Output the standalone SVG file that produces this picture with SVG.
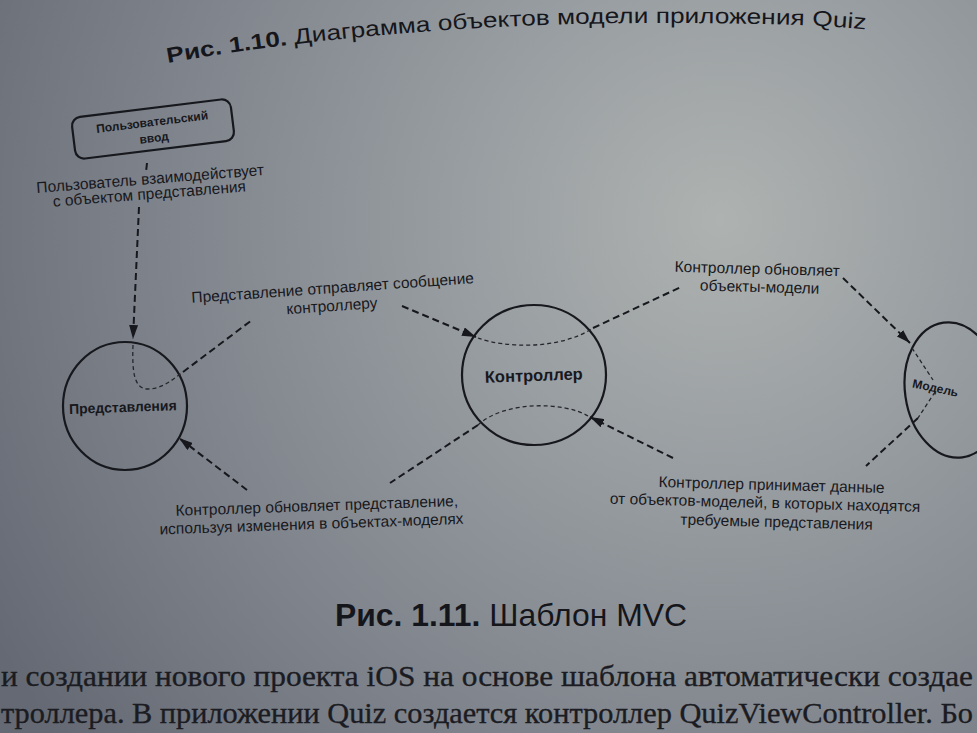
<svg xmlns="http://www.w3.org/2000/svg" width="977" height="733" viewBox="0 0 977 733">
  <defs>
    <radialGradient id="paper" cx="720" cy="220" r="840" gradientUnits="userSpaceOnUse">
      <stop offset="0" stop-color="#aeb2b0"/>
      <stop offset="0.3" stop-color="#999ea2"/>
      <stop offset="0.65" stop-color="#80858d"/>
      <stop offset="1" stop-color="#646973"/>
    </radialGradient>
    <marker id="arrow" viewBox="0 0 14 9" refX="14" refY="4.5" markerWidth="14" markerHeight="9" markerUnits="userSpaceOnUse" orient="auto">
      <path d="M0,0 L14,4.5 L0,9 z" fill="#17181d"/>
    </marker>
    <!-- curved baseline for the upper figure caption -->
    <path id="capline" d="M168,63 C300,39 480,23 650,23 C760,23 820,25 862,29"/>
  </defs>
  <style>
    .node{fill:none;stroke:#17181d;stroke-width:2.2}
    .nodelbl{font-family:"Liberation Sans",Arial,sans-serif;font-weight:bold;fill:#17181d;text-anchor:middle}
    .lbl{font-family:"Liberation Sans",Arial,sans-serif;font-size:15.5px;fill:#17181d;text-anchor:middle}
    .dash{fill:none;stroke:#17181d;stroke-width:2;stroke-dasharray:7 4}
    .thin{fill:none;stroke:#25262c;stroke-width:1.3;stroke-dasharray:4 3}
    .cap{font-family:"Liberation Sans",Arial,sans-serif;fill:#15161b}
    .body{font-family:"Liberation Serif","Times New Roman",serif;font-size:30px;fill:#1b1b22;stroke:#1b1b22;stroke-width:0.35}
  </style>

  <!-- page -->
  <rect width="977" height="733" fill="url(#paper)"/>

  <!-- caption of the previous figure, bending with the page -->
  <text class="cap" font-size="21.5" textLength="700" lengthAdjust="spacingAndGlyphs">
    <textPath href="#capline"><tspan font-weight="bold">Рис. 1.10.</tspan> Диаграмма объектов модели приложения Quiz</textPath>
  </text>

  <!-- nodes -->
  <g id="user-input" transform="rotate(-7 153 129)">
    <rect x="73" y="108" width="160" height="42" rx="9" class="node" stroke-width="2"/>
    <text class="nodelbl" font-size="12" x="153" y="126">Пользовательский</text>
    <text class="nodelbl" font-size="12" x="153" y="142">ввод</text>
  </g>

  <g id="view">
    <ellipse cx="125" cy="406" rx="62" ry="64" class="node"/>
    <text class="nodelbl" font-size="14" x="123" y="412" transform="rotate(-2 123 412)">Представления</text>
  </g>

  <g id="controller">
    <ellipse cx="534" cy="375" rx="72" ry="70" class="node"/>
    <text class="nodelbl" font-size="16.5" x="534" y="381" transform="rotate(-2 534 381)">Контроллер</text>
  </g>

  <g id="model">
    <ellipse cx="953" cy="390" rx="48" ry="68" transform="rotate(-8 953 390)" class="node"/>
    <text class="nodelbl" font-size="12" x="935" y="392" text-anchor="start" transform="rotate(12 935 390)">Модель</text>
  </g>

  <!-- connectors -->
  <g id="connectors">
    <!-- user input -> view -->
    <path class="dash" d="M147,163 L146,172"/>
    <path class="dash" d="M139,207 L133,339" marker-end="url(#arrow)"/>
    <path class="thin" d="M133,345 C132,372 134,389 148,389 C162,389 172,380 183,372"/>
    <!-- view -> controller -->
    <path class="dash" d="M183,372 L252,320"/>
    <path class="dash" d="M402,306 L476,337" marker-end="url(#arrow)"/>
    <path class="thin" d="M478,338 C505,348 560,350 593,328"/>
    <!-- controller -> model -->
    <path class="dash" d="M593,328 L681,287"/>
    <path class="dash" d="M843,278 L910,343" marker-end="url(#arrow)"/>
    <path class="thin" d="M912,348 L933,380"/>
    <!-- model -> controller -->
    <path class="thin" d="M935,392 L918,418"/>
    <path class="dash" d="M918,418 L866,466"/>
    <path class="dash" d="M673,458 L590,417" marker-end="url(#arrow)"/>
    <path class="thin" d="M588,416 C565,402 505,400 478,425"/>
    <!-- controller -> view -->
    <path class="dash" d="M478,425 L390,483"/>
    <path class="dash" d="M247,490 L179,438" marker-end="url(#arrow)"/>
  </g>

  <!-- connector labels -->
  <g id="labels">
    <g transform="rotate(-4.5 150 190)">
      <text class="lbl" font-size="13.5" x="151" y="184">Пользователь взаимодействует</text>
      <text class="lbl" font-size="13.5" x="149" y="199">с объектом представления</text>
    </g>
    <g transform="rotate(-4 333 293)">
      <text class="lbl" x="333" y="293">Представление отправляет сообщение</text>
      <text class="lbl" x="331" y="311">контроллеру</text>
    </g>
    <g transform="rotate(1.5 757 274)">
      <text class="lbl" x="757" y="274">Контроллер обновляет</text>
      <text class="lbl" x="760" y="292">объекты-модели</text>
    </g>
    <g transform="rotate(1.5 770 508)">
      <text class="lbl" font-size="16.5" x="771" y="490">Контроллер принимает данные</text>
      <text class="lbl" font-size="16.5" x="765" y="508">от объектов-моделей, в которых находятся</text>
      <text class="lbl" font-size="16.5" x="777" y="527">требуемые представления</text>
    </g>
    <g transform="rotate(-2 315 511)">
      <text class="lbl" font-size="16" x="317" y="511">Контроллер обновляет представление,</text>
      <text class="lbl" font-size="16" x="311" y="529">используя изменения в объектах-моделях</text>
    </g>
  </g>

  <!-- figure caption -->
  <text class="cap" font-size="30.5" x="335" y="626" textLength="352" lengthAdjust="spacingAndGlyphs"><tspan font-weight="bold">Рис. 1.11.</tspan> Шаблон MVC</text>

  <!-- running text below the figure -->
  <text class="body" x="1" y="686" textLength="972" lengthAdjust="spacingAndGlyphs">и создании нового проекта iOS на основе шаблона автоматически создае</text>
  <text class="body" x="1" y="723" textLength="972" lengthAdjust="spacingAndGlyphs">троллера. В приложении Quiz создается контроллер QuizViewController. Бо</text>
</svg>
